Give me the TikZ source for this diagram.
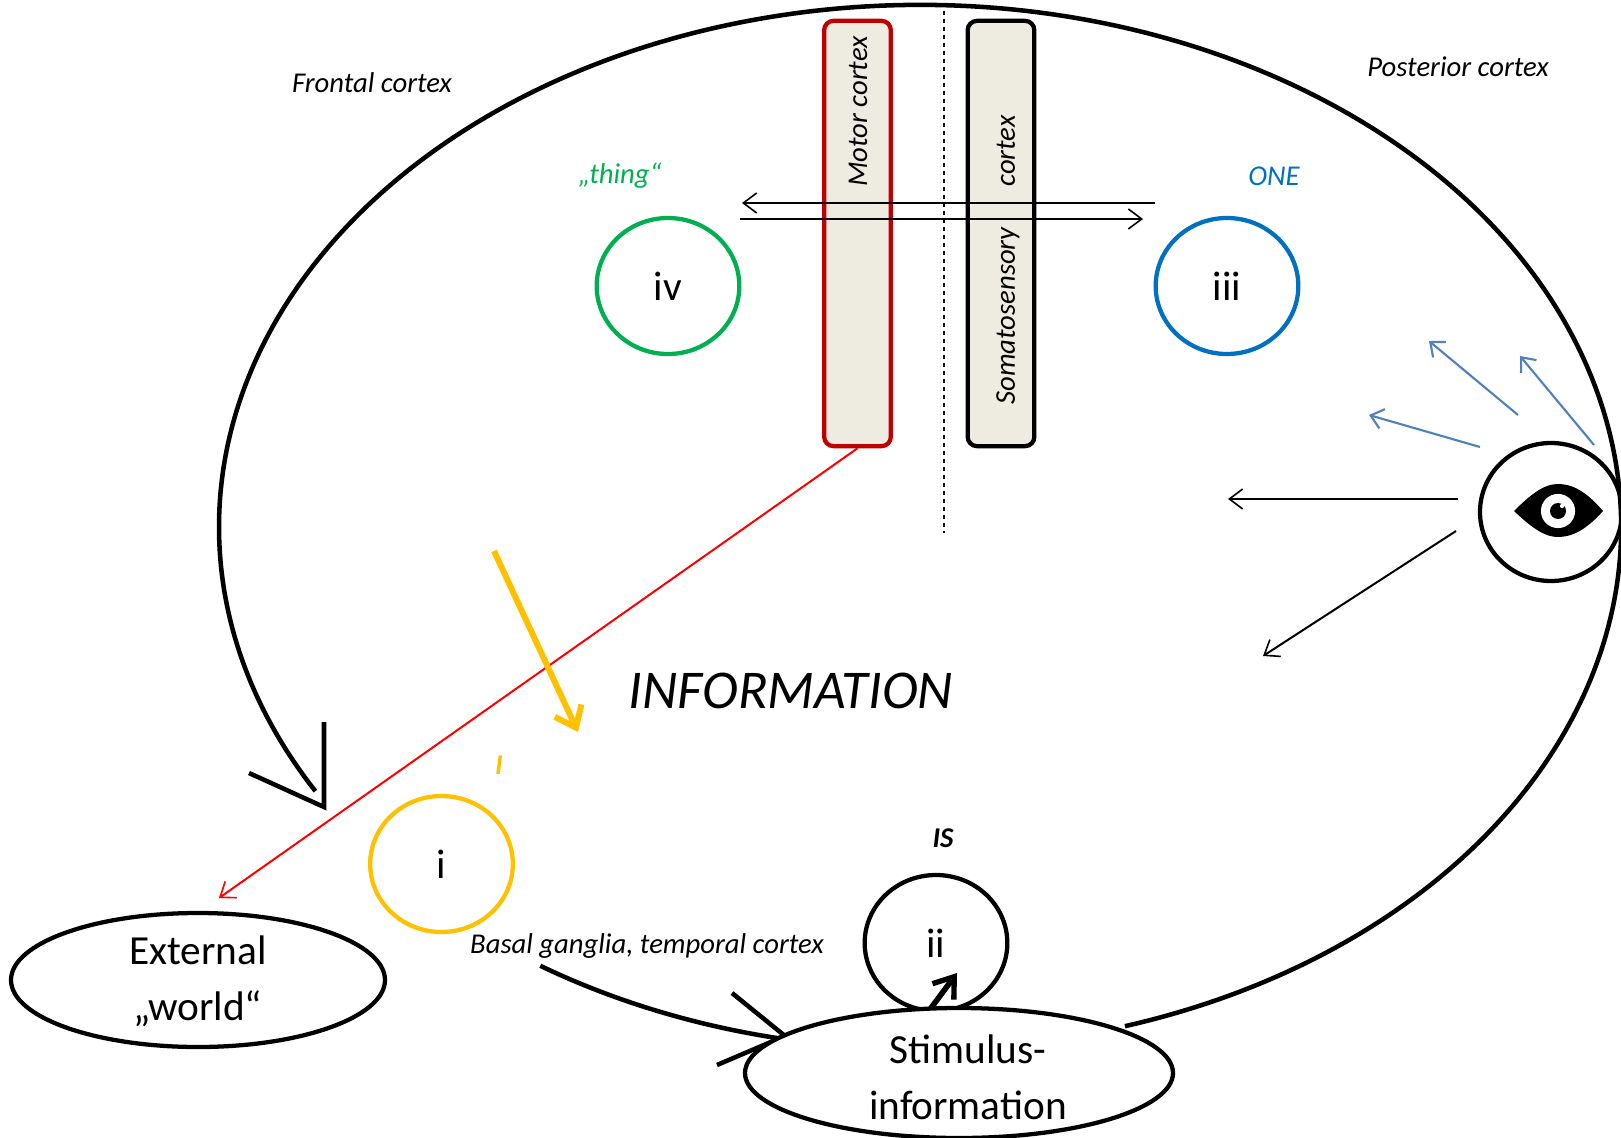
\documentclass[tikz,border=0pt]{standalone}
\usepackage{fontspec}
\setmainfont{Carlito}
\usetikzlibrary{shapes.geometric,arrows.meta}
\definecolor{barfill}{RGB}{238,236,225}
\definecolor{motorred}{RGB}{192,0,0}
\definecolor{infoyellow}{RGB}{255,192,0}
\definecolor{thinggreen}{RGB}{0,176,80}
\definecolor{oneblue}{RGB}{0,112,192}
\definecolor{eyeblue}{RGB}{79,129,189}
\newcommand{\labelsize}{\fontsize{21.5}{24}\selectfont}
\newcommand{\bigsize}{\fontsize{31}{42}\selectfont}
\tikzset{
  cortexline/.style={line width=3.4pt},
  stage/.style={draw,ellipse,line width=3.2pt,minimum width=107pt,minimum height=102pt,inner sep=0pt,font=\bigsize},
  outside/.style={draw,ellipse,fill=white,line width=3.2pt,inner sep=0pt},
  bar/.style={draw,rectangle,rounded corners=7pt,fill=barfill,line width=3.2pt,minimum width=50pt,minimum height=319pt,inner sep=0pt},
  note/.style={font=\labelsize\itshape,inner sep=0pt},
  barb/.style={-{Straight Barb[length=10pt,width=15pt,line width=1.2pt]},line width=1.2pt},
  ray/.style={-{Straight Barb[length=9pt,width=15pt,line width=1.6pt]},line width=1.6pt,eyeblue}
}
\begin{document}
\begin{tikzpicture}[x=0.75pt,y=-0.75pt]
\useasboundingbox (0,0) rectangle (1621,1138);
% hemisphere
\coordinate (cortex) at (920,527);
\draw[cortexline] ([shift={(-73:525.75pt and 391.5pt)}]cortex) arc[start angle=-73,end angle=210.4,x radius=525.75pt,y radius=391.5pt];
\draw[cortexline] ([shift={(237.2:525.75pt and 391.5pt)}]cortex) arc[start angle=237.2,end angle=259,x radius=525.75pt,y radius=391.5pt];
\coordinate (lefttip) at (324,807);
\coordinate (leftup) at (324,722);
\coordinate (leftback) at (249,773);
\draw[cortexline] (leftup) -- (lefttip) -- (leftback);
\coordinate (lowtip) at (785,1036);
\coordinate (lowup) at (732,993);
\coordinate (lowback) at (717,1065);
\draw[cortexline] (lowup) -- (lowtip) -- (lowback);
\coordinate (midtop) at (944,3);
\coordinate (midend) at (944,533);
\draw[dashed,line width=1.2pt] (midtop) -- (midend);
% central bars
\node[bar,draw=motorred] (motor) at (857.5,233.5) {};
\node[bar,draw=black] (soma) at (1001,233.5) {};
\node[note,rotate=90] (motortext) at (858,111.5) {Motor cortex};
\node[note,rotate=90] (somatext) at (1008,260) {Somatosensory\hspace{30.5pt}cortex};
% stages
\node[stage,draw=thinggreen] (iv) at (668,286) {iv};
\node[stage,draw=oneblue] (iii) at (1227,286) {iii};
\node[stage,draw=infoyellow] (i) at (441.5,864) {i};
\node[stage] (ii) at (936,943) {ii};
\coordinate (twostart) at (928,1012);
\coordinate (twotip) at (957,973);
\draw[-{Straight Barb[length=14pt,width=20pt,line width=4pt]},line width=4.2pt] (twostart) -- (twotip);
\node[outside,minimum width=321pt,minimum height=97.5pt] (stim) at (959,1073) {};
\node[outside,minimum width=280.5pt,minimum height=100.5pt] (world) at (198,980) {};
\node[font=\bigsize,align=center,inner sep=0pt] (stimtext) at (968,1077) {Stimulus-\\information};
\node[font=\bigsize,align=center,inner sep=0pt] (worldtext) at (198,981) {External\\„world“};
% eye
\node[draw,ellipse,line width=3.2pt,minimum width=106.5pt,minimum height=103.5pt,inner sep=0pt] (eye) at (1551,512) {};
\coordinate (eyeleft) at (1514,511);
\coordinate (eyeright) at (1603,511);
\fill (eyeleft) .. controls (1534,491) and (1546,484) .. (1558,484) .. controls (1572,484) and (1586,491) .. (eyeright) .. controls (1586,530) and (1572,537) .. (1558,537) .. controls (1546,537) and (1534,530) .. (eyeleft);
\fill[white] (1558,511) circle[radius=12.8pt];
\fill (1558,511) circle[radius=6pt];
\fill[white] (1562,506) circle[radius=1.6pt];
% arrows
\coordinate (upperleft) at (742,203);
\coordinate (upperright) at (1155,203);
\coordinate (lowerleft) at (740,219);
\coordinate (lowerright) at (1143,219);
\draw[barb] (upperright) -- (upperleft);
\draw[barb] (lowerleft) -- (lowerright);
\coordinate (raya) at (1594,445);
\coordinate (rayatip) at (1520,356);
\coordinate (rayb) at (1518,415);
\coordinate (raybtip) at (1429,341);
\coordinate (rayc) at (1480,447);
\coordinate (rayctip) at (1369,415);
\draw[ray] (raya) -- (rayatip);
\draw[ray] (rayb) -- (raybtip);
\draw[ray] (rayc) -- (rayctip);
\coordinate (eyeout) at (1458,499);
\coordinate (eyeouttip) at (1228,499);
\coordinate (eyelow) at (1456,531);
\coordinate (eyelowtip) at (1263,656);
\draw[barb,line width=1.5pt] (eyeout) -- (eyeouttip);
\draw[barb,line width=1.5pt] (eyelow) -- (eyelowtip);
\coordinate (worldtip) at (219,898);
\draw[barb,red,line width=1.5pt] (motor.south) -- (worldtip);
\coordinate (infostart) at (494,551);
\coordinate (infotip) at (578,732);
\draw[-{Straight Barb[length=14pt,width=22pt,line width=4.5pt]},line width=4.5pt,infoyellow] (infostart) -- (infotip);
% labels
\node[note] (frontal) at (372,83) {Frontal cortex};
\node[note] (posterior) at (1458,67) {Posterior cortex};
\node[note,text=thinggreen] (thing) at (620,176) {„thing“};
\node[note,text=oneblue] (one) at (1274,176) {ONE};
\node[note,font=\fontsize{41}{48}\selectfont\itshape] (information) at (791,691) {INFORMATION};
\node[note,font=\labelsize\itshape\bfseries] (is) at (943,838) {IS};
\node[note,font=\labelsize\itshape\bfseries,text=infoyellow] (iletter) at (499,765) {I};
\node[note] (basal) at (647,946) {Basal ganglia, temporal cortex};
\end{tikzpicture}
\end{document}
